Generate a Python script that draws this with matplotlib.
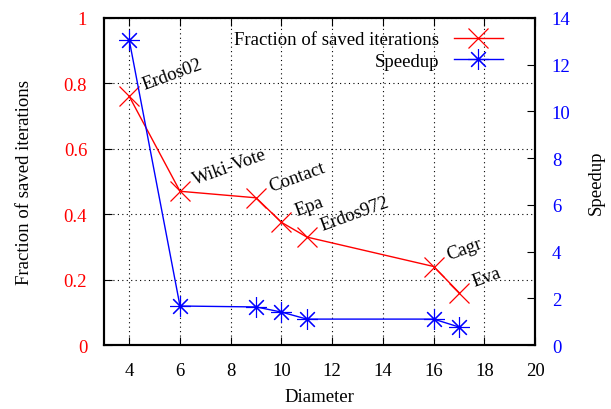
import numpy as np
import matplotlib
matplotlib.use('Agg')
from matplotlib import pyplot as plt

plt.rcParams['font.family'] = ['Liberation Serif', 'DejaVu Serif']
plt.rcParams['font.size'] = 13.5

diameter = [4, 6, 9, 10, 11, 16, 17]
names = ['Erdos02', 'Wiki-Vote', 'Contact', 'Epa', 'Erdos972', 'Cagr', 'Eva']
fraction = [0.76, 0.47, 0.45, 0.375, 0.33, 0.24, 0.16]
speedup = [13.05, 1.67, 1.63, 1.41, 1.11, 1.11, 0.77]

red = '#ff0000'
blue = '#0000ff'

fig = plt.figure(figsize=(6.11, 4.10), dpi=100)
ax = fig.add_axes([0.170, 0.156, 0.706, 0.798])
ax2 = ax.twinx()

l1, = ax.plot(diameter, fraction, color=red, lw=1, marker='x', ms=14, mew=0.9,
              label='Fraction of saved iterations')
l2, = ax2.plot(diameter, speedup, color=blue, lw=1, marker=(8, 2, 0), ms=15, mew=0.8,
               label='Speedup')

# dataset names next to the red points
for x, y, n in zip(diameter, fraction, names):
    ax.text(x + 0.65, y + 0.01, n, rotation=20, fontsize=13.5,
            ha='left', va='bottom', rotation_mode='anchor')

ax.set_xlim(3, 20)
ax.set_ylim(0, 1)
ax2.set_ylim(0, 14)
ax.set_xticks(range(4, 21, 2))
ax.set_yticks(np.arange(0, 1.01, 0.2))
ax.set_yticklabels(['0', '0.2', '0.4', '0.6', '0.8', '1'])
ax2.set_yticks(range(0, 15, 2))

ax.grid(True, color='black', linestyle=(0, (1, 3)), lw=0.8)
ax.tick_params(direction='in', length=6, top=True, colors='black', pad=12)
ax.tick_params(axis='y', labelcolor=red)
ax2.tick_params(direction='in', length=6, labelcolor=blue, pad=12)
for a in (ax, ax2):
    for s in a.spines.values():
        s.set_linewidth(1.5)

ax.set_xlabel('Diameter', labelpad=7)
ax.set_ylabel('Fraction of saved iterations', labelpad=22)
ax2.set_ylabel('Speedup', labelpad=12)

ax2.legend([l1, l2], [l1.get_label(), l2.get_label()], loc='upper right',
           frameon=False, markerfirst=False, handlelength=2.6,
           borderaxespad=0.3, labelspacing=0.25, bbox_to_anchor=(0.955, 1.0))

fig.savefig('out.png', dpi=100)
